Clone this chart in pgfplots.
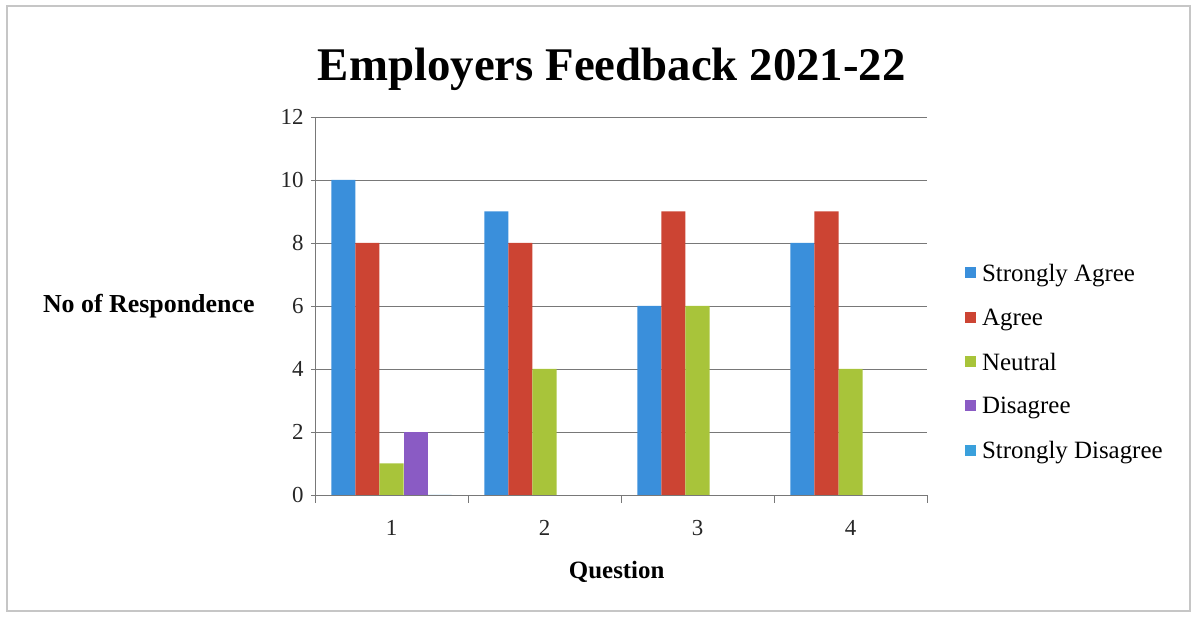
\documentclass[border=0pt]{standalone}
\usepackage{pgfplots}
\pgfplotsset{compat=1.18}
\usepackage{fontspec}
\setmainfont{Liberation Serif}

\definecolor{sagree}{RGB}{58,143,219}
\definecolor{agree}{RGB}{204,68,51}
\definecolor{neutral}{RGB}{168,196,58}
\definecolor{disagree}{RGB}{138,91,196}
\definecolor{sdisagree}{RGB}{58,160,220}
\definecolor{gridc}{RGB}{120,120,120}

\begin{document}
\begin{tikzpicture}[x=1bp,y=1bp]
  \useasboundingbox (0,0) rectangle (1195,627);
  \draw[gray!45, line width=1.2bp] (7,16) rectangle (1190,621);

  \begin{axis}[
      at={(315bp,132bp)}, anchor=south west,
      scale only axis,
      width=612bp, height=378bp,
      xmin=0.5, xmax=4.5,
      ymin=0, ymax=12,
      ytick={0,2,...,12},
      xtick={1,2,3,4},
      minor xtick={0.5,1.5,2.5,3.5,4.5},
      major x tick style={draw=none},
      minor tick length=8bp,
      major tick length=8bp,
      tick align=outside,
      axis x line=bottom, axis y line=left,
      axis line style={gridc, -},
      every tick/.style={gridc},
      ymajorgrids,
      major grid style={gridc, line width=0.9bp},
      /pgf/number format/assume math mode=true,
      tick label style={font=\fontsize{23}{27}\selectfont, text=black!85},
      yticklabel style={xshift=-4bp},
      xticklabel style={yshift=-14bp},
      title={Employers Feedback 2021-22},
      title style={font=\fontsize{47}{54}\selectfont\bfseries, at={(axis description cs:0.485,1.11)}, anchor=center},
      xlabel={Question},
      xlabel style={font=\fontsize{25}{30}\selectfont\bfseries, at={(axis description cs:0.493,-0.204)}, anchor=center},
      ylabel={No of Respondence},
      ylabel style={font=\fontsize{26}{31}\selectfont\bfseries, rotate=-90, at={(axis description cs:-0.093,0.5)}, anchor=east},
      ybar, bar width=0.157,
      legend style={at={(axis description cs:1.057,0.622)}, anchor=north west,
        draw=none, fill=none, font=\fontsize{25}{30}\selectfont,
        row sep=22bp, cells={anchor=west}},
      legend image code/.code={\fill[#1] (0bp,-5bp) rectangle (11bp,6bp);},
    ]
    \addplot[fill=sagree, draw=none, bar shift=-0.314] coordinates {(1,10) (2,9) (3,6) (4,8)};
    \addlegendentry{\hspace{4bp}Strongly Agree}
    \addplot[fill=agree, draw=none, bar shift=-0.157] coordinates {(1,8) (2,8) (3,9) (4,9)};
    \addlegendentry{\hspace{4bp}Agree}
    \addplot[fill=neutral, draw=none, bar shift=0] coordinates {(1,1) (2,4) (3,6) (4,4)};
    \addlegendentry{\hspace{4bp}Neutral}
    \addplot[fill=disagree, draw=none, bar shift=0.157] coordinates {(1,2)};
    \addlegendentry{\hspace{4bp}Disagree}
    \addplot[fill=sdisagree, draw=none, bar shift=0.314] coordinates {(1,0)};
    \addlegendentry{\hspace{4bp}Strongly Disagree}
  \end{axis}
\end{tikzpicture}
\end{document}
